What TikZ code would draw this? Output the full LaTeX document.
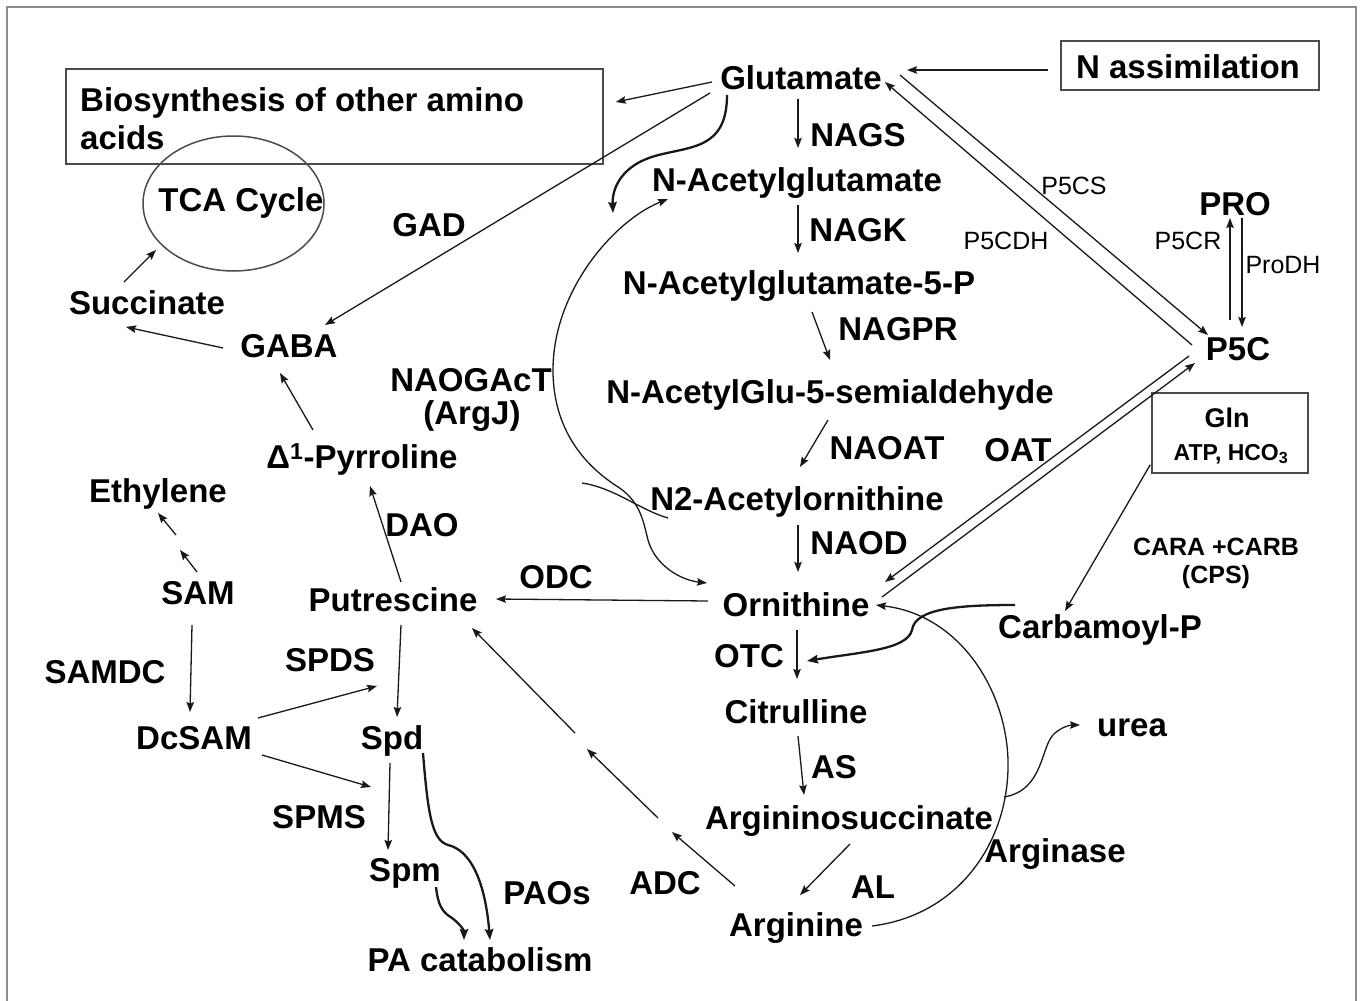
\documentclass[tikz,border=0pt]{standalone}
\usepackage{fontspec}
\setmainfont{Liberation Sans}
\usetikzlibrary{arrows.meta,calc,shapes.geometric}
\newcommand\MainLab{\fontsize{33}{38}\selectfont\bfseries}
\newcommand\SmallLab{\fontsize{25}{30}\selectfont}
\newcommand\SmallBold{\fontsize{25}{30}\selectfont\bfseries}
\newcommand\GlnFont{\fontsize{27}{32}\selectfont\bfseries}
\newcommand\AtpFont{\fontsize{23}{28}\selectfont\bfseries}
\definecolor{framegray}{gray}{0.55}
\definecolor{boxgray}{gray}{0.3}
\definecolor{linecol}{gray}{0.1}
\tikzset{
  lab/.style={inner sep=0pt, font=\MainLab, text height=23.6pt, text depth=0pt},
  slab/.style={inner sep=0pt, font=\SmallLab, text height=17.9pt, text depth=0pt},
  sblab/.style={inner sep=0pt, font=\SmallBold, text height=17.9pt, text depth=0pt},
  glnlab/.style={inner sep=0pt, font=\GlnFont, text height=19.3pt, text depth=0pt},
  atplab/.style={inner sep=0pt, font=\AtpFont, text height=16.5pt, text depth=0pt},
  boxnode/.style={draw=boxgray, line width=1.6pt, inner sep=0pt},
  ellnode/.style={ellipse, draw=boxgray, line width=1.5pt, inner sep=0pt},
  arr/.style={draw=linecol, line width=1.3pt, -{Stealth[length=10pt,width=7.5pt,inset=1.5pt]}},
  darr/.style={draw=linecol, line width=1.3pt, {Stealth[length=10pt,width=7.5pt,inset=1.5pt]}-{Stealth[length=10pt,width=7.5pt,inset=1.5pt]}},
  tarr/.style={draw=linecol, line width=2.3pt, -{Stealth[length=11pt,width=8.5pt,inset=1.5pt]}},
  plain/.style={draw=linecol, line width=1.3pt}
}
\begin{document}
\begin{tikzpicture}[x=1pt,y=-1pt]
\useasboundingbox (0,0) rectangle (1360,1001);
\fill[white] (0,0) rectangle (1360,1001);
\draw[framegray, line width=2.5pt] (7,1001) -- (7,7) -- (1356,7) -- (1356,1001);

% ---------- nodes: left part ----------
\node[lab] (glu) at (801,78) {Glutamate};
\node[boxnode, minimum width=258pt, minimum height=49pt] (nabox) at (1190,65.5) {};
\node[lab] (natext) at (1188,67) {N assimilation};
\node[boxnode, minimum width=537pt, minimum height=95pt] (biobox) at (334.5,116.5) {};
\node[lab, anchor=west] (bio1) at (80,100) {Biosynthesis of other amino};
\node[lab, anchor=west] (bio2) at (80,138) {acids};
\node[ellnode, minimum width=181pt, minimum height=135pt] (tca) at (233.5,203.5) {};
\node[lab] (tcat) at (241,200) {TCA Cycle};
\node[lab] (gad) at (429,225) {GAD};
\node[lab] (succ) at (147,303) {Succinate};
\node[lab] (gaba) at (289,346) {GABA};
\node[lab] (naogact) at (471,380) {NAOGAcT};
\node[lab] (argj) at (472,413) {(ArgJ)};
\node[lab] (pyr) at (362,457) {Δ\textsuperscript{1}-Pyrroline};
\node[lab] (eth) at (158,491) {Ethylene};
\node[lab] (dao) at (422,525) {DAO};
\node[lab] (sam) at (198,593) {SAM};
\node[lab] (put) at (393,600) {Putrescine};
\node[lab] (odc) at (556,577) {ODC};
\node[lab] (samdc) at (105,672) {SAMDC};
\node[lab] (spds) at (330,660) {SPDS};
\node[lab] (dcsam) at (194,738) {DcSAM};
\node[lab] (spd) at (392,738) {Spd};
\node[lab] (spms) at (319,817) {SPMS};
\node[lab] (spm) at (405,870) {Spm};
\node[lab] (paos) at (547,893) {PAOs};
\node[lab] (pacat) at (480,960) {PA catabolism};
\node[lab] (adc) at (665,883) {ADC};

% ---------- nodes: centre and right ----------
\node[lab] (nags) at (858,135) {NAGS};
\node[lab] (nag) at (797,180) {N-Acetylglutamate};
\node[lab] (nagk) at (858,230) {NAGK};
\node[lab] (nag5p) at (799,283) {N-Acetylglutamate-5-P};
\node[lab] (nagpr) at (898,329) {NAGPR};
\node[lab] (nagsa) at (830,392) {N-AcetylGlu-5-semialdehyde};
\node[lab] (naoat) at (887,448) {NAOAT};
\node[lab] (oat) at (1018,450) {OAT};
\node[lab] (n2ao) at (797,499) {N2-Acetylornithine};
\node[lab] (naod) at (859,543) {NAOD};
\node[lab] (orn) at (796,605) {Ornithine};
\node[lab] (otc) at (749,656) {OTC};
\node[lab] (cit) at (796,712) {Citrulline};
\node[lab] (as) at (834,767) {AS};
\node[lab] (argsuc) at (849,818) {Argininosuccinate};
\node[lab] (al) at (873,887) {AL};
\node[lab] (arg) at (796,925) {Arginine};
\node[lab] (arginase) at (1055,851) {Arginase};
\node[lab] (urea) at (1132,725) {urea};
\node[lab] (carb) at (1100,627) {Carbamoyl-P};
\node[sblab] (cara) at (1216,547) {CARA +CARB};
\node[sblab] (cps) at (1216,575) {(CPS)};
\node[boxnode, minimum width=156pt, minimum height=80pt] (glnbox) at (1230,433) {};
\node[glnlab] (gln) at (1227,418) {Gln};
\node[atplab] (atp) at (1231,452) {ATP, HCO\textsubscript{3}};
\node[lab] (p5c) at (1238,349) {P5C};
\node[lab] (pro) at (1235,204) {PRO};
\node[slab] (p5cr) at (1188,241) {P5CR};
\node[slab] (prodh) at (1283,265) {ProDH};
\node[slab] (p5cs) at (1074,186) {P5CS};
\node[slab] (p5cdh) at (1006,241) {P5CDH};

% free ends
\coordinate (arcin) at (613,213);
\coordinate (xin) at (582,483);
\coordinate (otcin) at (807,661);
\coordinate (ub) at (1004,797);
\coordinate (adc1) at (672,832);
\coordinate (adc2) at (658,818);
\coordinate (adc3) at (587,749);
\coordinate (adc4) at (575,733);
\coordinate (ethm1) at (180,550);
\coordinate (ethm2) at (176,535);
\coordinate (spdsin) at (377,686);
\coordinate (spmsin) at (371,787);

% ---------- connectors ----------
\draw[arr] ($(nabox.west)+(-12,4.5)$) -- ($(glu)+(106,-8)$);
\draw[arr] ($(glu)+(-89,4)$) -- ($(biobox.east)+(12,-14.5)$);
\draw[arr] ($(glu)+(-91,15)$) -- ($(gaba)+(36,-21)$);
\draw[tarr] ($(glu)+(-74,17)$) .. controls (727,150) and (690,146) .. (655,156)
   .. controls (620,166) and (612,190) .. (arcin);
\draw[darr] ($(nag)+(-129,19)$) .. controls (615,220) and (553,290) .. (553,370)
   .. controls (553,430) and (585,465) .. (615,485)
   .. controls (640,500) and (643,520) .. (648,540)
   .. controls (655,565) and (680,580) .. ($(orn)+(-89,-22)$);
\draw[plain] (xin) .. controls (615,488) and (640,510) .. ($(n2ao)+(-129,19)$);

\draw[arr] ($(glu)+(-3,21)$) -- ($(nag)+(1,-32)$);
\draw[arr] ($(nag)+(1,25)$) -- ($(nag5p)+(-1,-30)$);
\draw[arr] ($(nag5p)+(13,29)$) -- ($(nagsa)+(0,-32)$);
\draw[arr] ($(nagsa)+(-2,28)$) -- ($(n2ao)+(3,-32)$);
\draw[arr] ($(n2ao)+(1,26)$) -- ($(orn)+(2,-33)$);
\draw[arr] ($(orn)+(1,25)$) -- ($(cit)+(1,-33)$);
\draw[arr] ($(cit)+(2,24)$) -- ($(argsuc)+(-45,-23)$);
\draw[arr] ($(argsuc)+(1,26)$) -- ($(arg)+(4,-30)$);

\draw[arr] ($(glu)+(99,-3)$) -- ($(p5c)+(-30,-14)$);
\draw[arr] ($(p5c)+(-46,-4)$) -- ($(glu)+(84,4)$);
\draw[arr] ($(orn)+(86,-8)$) -- ($(p5c)+(-43,14)$);
\draw[arr] ($(p5c)+(-49,7)$) -- ($(orn)+(89,-23)$);
\draw[arr] ($(p5c)+(-8,-29)$) -- ($(pro)+(-5,14)$);
\draw[arr] ($(pro)+(7,14)$) -- ($(p5c)+(4,-22)$);

\draw[arr] ($(glnbox.south west)+(-1,-9)$) -- ($(carb)+(-35,-16)$);
\draw[tarr] ($(carb)+(-85,-22)$) .. controls (960,605) and (915,608) .. (912,630)
   .. controls (907,650) and (860,652) .. (otcin);
\draw[arr] ($(arg)+(76,1)$) .. controls (960,915) and (1010,840) .. (1008,760)
   .. controls (1006,690) and (960,615) .. ($(orn)+(80,0)$);
\draw[arr] (ub) .. controls (1045,790) and (1040,745) .. (1055,733)
   .. controls (1062,727) and (1070,725) .. ($(urea)+(-52,0)$);

\draw[arr] ($(orn)+(-88,-4)$) -- ($(put)+(103,-1)$);
\draw[arr] ($(arg)+(-61,-39)$) -- (adc1);
\draw[arr] (adc2) -- (adc3);
\draw[arr] (adc4) -- ($(put)+(79,28)$);

\draw[arr] ($(put)+(8,-18)$) -- ($(pyr)+(8,29)$);
\draw[arr] ($(pyr)+(-49,-27)$) -- ($(gaba)+(-9,27)$);
\draw[arr] ($(gaba)+(-66,2)$) -- ($(succ)+(-21,24)$);
\draw[arr] ($(succ)+(-23,-21)$) -- ($(tca)+(-77.5,46.5)$);
\draw[arr] ($(sam)+(-1,-21)$) -- (ethm1);
\draw[arr] (ethm2) -- ($(eth)+(0,22)$);
\draw[arr] ($(sam)+(-6,32)$) -- ($(dcsam)+(-4,-26)$);
\draw[arr] ($(dcsam)+(64,-20)$) -- (spdsin);
\draw[arr] ($(dcsam)+(68,17)$) -- (spmsin);
\draw[arr] ($(put)+(8,25)$) -- ($(spd)+(5,-21)$);
\draw[arr] ($(spd)+(-2,25)$) -- ($(spm)+(-17,-20)$);
\draw[tarr] ($(spd)+(31,15)$) .. controls (428,815) and (432,840) .. (448,845)
   .. controls (470,850) and (485,880) .. ($(pacat)+(10,-20)$);
\draw[tarr] ($(spm)+(31,17)$) .. controls (438,905) and (442,912) .. (452,918)
   .. controls (460,924) and (464,930) .. ($(pacat)+(-16,-20)$);
\end{tikzpicture}
\end{document}
